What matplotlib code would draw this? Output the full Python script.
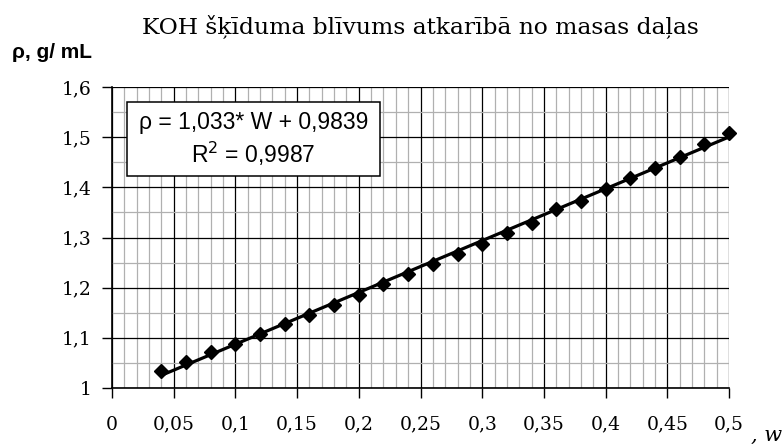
import numpy as np
import matplotlib
matplotlib.use('Agg')
import matplotlib.pyplot as plt
from matplotlib.patches import Rectangle
from matplotlib.ticker import MultipleLocator, FuncFormatter

# mass fraction of KOH and solution density, g/mL
w = [0.04, 0.06, 0.08, 0.10, 0.12, 0.14, 0.16, 0.18, 0.20, 0.22, 0.24, 0.26,
     0.28, 0.30, 0.32, 0.34, 0.36, 0.38, 0.40, 0.42, 0.44, 0.46, 0.48, 0.50]
rho = [1.033, 1.051, 1.072, 1.088, 1.107, 1.127, 1.145, 1.165, 1.186, 1.207,
       1.227, 1.247, 1.267, 1.288, 1.308, 1.328, 1.357, 1.373, 1.396, 1.418,
       1.438, 1.461, 1.486, 1.509]

# trendline from the equation shown on the chart
slope, intercept, r2 = 1.033, 0.9839, 0.9987

title = "KOH šķīduma blīvums atkarībā no masas daļas"
ylabel = "ρ, g/ mL"
xlabel = ", w"

W, H = 782, 445
fig = plt.figure(figsize=(W / 100, H / 100), dpi=100)
ax = fig.add_axes([112 / W, 1 - 388 / H, 617 / W, 301 / H])


def fx(px):
    return px / W


def fy(py):
    return 1 - py / H


ax.set_xlim(0, 0.5)
ax.set_ylim(1.0, 1.6)
ax.xaxis.set_major_locator(MultipleLocator(0.05))
ax.xaxis.set_minor_locator(MultipleLocator(0.01))
ax.yaxis.set_major_locator(MultipleLocator(0.1))
ax.yaxis.set_minor_locator(MultipleLocator(0.05))

comma = FuncFormatter(lambda v, p: f"{v:g}".replace(".", ","))
ax.xaxis.set_major_formatter(comma)
ax.yaxis.set_major_formatter(comma)

ax.grid(which="minor", color="#b0b0b0", lw=0.9)
ax.grid(which="major", color="#000000", lw=0.9)
ax.set_axisbelow(True)
ax.tick_params(which="minor", length=0)
ax.tick_params(which="major", direction="out", length=7, width=1, pad=8,
               labelsize=13.5)
ax.tick_params(axis="x", pad=13)
for lab in ax.get_xticklabels() + ax.get_yticklabels():
    lab.set_fontfamily("DejaVu Serif")
for sp in ["top", "right"]:
    ax.spines[sp].set_visible(False)
for sp in ["left", "bottom"]:
    ax.spines[sp].set_linewidth(1.2)

xf = np.array([w[0], w[-1]])
ax.plot(xf, slope * xf + intercept, color="black", lw=2.3, zorder=3)
ax.plot(w, rho, ls="none", marker="D", ms=6.8, color="black", zorder=4,
        clip_on=False)

# equation box
box = Rectangle((fx(127), fy(176)), fx(380) - fx(127), fy(102) - fy(176),
                transform=fig.transFigure, fc="white", ec="black", lw=1.1,
                zorder=5)
fig.add_artist(box)
eq = f"ρ = {slope:.3f}* W + {intercept:.4f}".replace(".", ",")
r2txt = f"R$^2$ = {r2:.4f}".replace(".", ",")
fig.text(fx(253.5), fy(123), eq, fontfamily="Liberation Sans", fontsize=16.5,
         ha="center", va="center", zorder=6)
fig.text(fx(253.5), fy(154), r2txt, fontfamily="Liberation Sans",
         fontsize=16.5, ha="center", va="center", zorder=6)

fig.text(fx(420), fy(33), title, fontfamily="DejaVu Serif",
         fontsize=16.8, ha="center", va="baseline")
fig.text(fx(12), fy(53), ylabel, fontfamily="Liberation Sans",
         fontsize=15, fontweight="bold", ha="left", va="center")
fig.text(fx(751), fy(435), xlabel, fontfamily="DejaVu Serif",
         fontsize=15, style="italic", ha="left", va="center")

fig.savefig("out.png", dpi=100)
